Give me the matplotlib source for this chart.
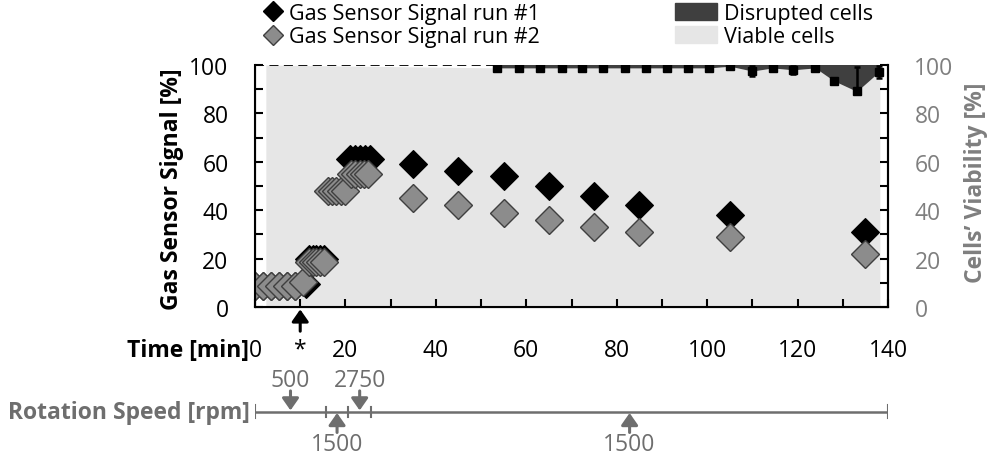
import matplotlib
matplotlib.use("Agg")
import matplotlib.pyplot as plt
from matplotlib.lines import Line2D
from matplotlib.patches import Patch

plt.rcParams['font.family'] = ['Open Sans', 'DejaVu Sans']

# Gas sensor signal, run #1 (black diamonds)
run1_time = [0, 1.8, 3.5, 5.3, 7, 8.8, 11.3,
             12, 12.8, 13.6, 14.4, 15.2,
             21, 22.1, 23.2, 24.3, 25.4,
             35, 45, 55, 65, 75, 85, 105, 135]
run1_signal = [8.8, 8.8, 8.8, 8.8, 8.8, 8.8, 9.5,
               20, 20, 20, 20, 20,
               61, 61, 61, 61, 61,
               59, 56, 54, 50, 46, 42, 38, 31]

# Gas sensor signal, run #2 (grey diamonds)
run2_time = [0, 1.8, 3.5, 5.3, 7, 8.8, 10.6,
             12, 12.8, 13.6, 14.4, 15.2,
             16.2, 17.1, 18, 19, 19.9,
             21.3, 22.2, 23.2, 24.1, 25.1,
             35, 45, 55, 65, 75, 85, 105, 135]
run2_signal = [8.8, 8.8, 8.8, 8.8, 8.8, 8.8, 10.2,
               18.5, 18.5, 18.5, 18.5, 18.5,
               48, 48, 48, 48, 48,
               55, 55, 55, 55, 55,
               45, 42, 39, 36, 33, 31, 29, 22]

# Cell viability (right axis)
via_time = [53.5, 58.4, 63, 68, 72.3, 77, 81.9, 86.5, 91.2, 95.8,
            100.5, 105, 110, 114.5, 119, 123.9, 128, 133.1, 137.9]
via_value = [98.8, 98.8, 98.8, 98.8, 98.8, 98.8, 98.8, 98.8, 98.8, 98.8,
             98.8, 99.5, 97.5, 98.8, 98, 98.8, 93.5, 89.1, 97]
via_err_low = [0, 0, 0, 0, 0, 0, 0, 0, 0, 0,
               0, 0, 2, 0, 1.7, 0, 0, 0, 2.5]
via_err_high = [0, 0, 0, 0, 0, 0, 0, 0, 0, 0,
                0, 0, 2, 0, 1.7, 0, 0, 10, 2.5]
viable_start = 2.4
viable_end = 138.2

# Rotation speed program
rot_edges = [0, 15.7, 20.6, 25.7, 140]
rot_speed = ['500', '1500', '2750', '1500']
rot_side = ['above', 'below', 'above', 'below']

x_ticks = [0, 10, 20, 30, 40, 50, 60, 70, 80, 90, 100, 110, 120, 130, 140]
x_ticklabels = ['0', '*', '20', '', '40', '', '60', '', '80', '', '100', '', '120', '', '140']
y_ticks = [0, 10, 20, 30, 40, 50, 60, 70, 80, 90, 100]
y_ticklabels = ['0', '', '20', '', '40', '', '60', '', '80', '', '100']

BLACK = '#000000'
GREY = '#8c8c8c'
DARK = '#3f3f3f'
LIGHT = '#e6e6e6'
TXT_GREY = '#7f7f7f'
ROT_GREY = '#6e6e6e'
FS = 16.5
ARROW = '-|>,head_width=0.28,head_length=0.4'

fig = plt.figure(figsize=(9.95, 4.56), dpi=100)
L, B, W, H = 255 / 995, 1 - 308 / 456, 633 / 995, 242 / 456
ax = fig.add_axes([L, B, W, H])

# background fills: viable (light) and disrupted (dark)
light_x = [viable_start] + via_time + [viable_end]
light_y = [100] + via_value + [via_value[-1]]
ax.fill_between(light_x, 0, light_y, color=LIGHT, lw=0, zorder=0)
ax.fill_between(via_time, via_value, 100, color=DARK, lw=0, zorder=1)
ax.plot([0, via_time[0]], [100, 100], color=BLACK, ls=(0, (5, 3)), lw=1.3, zorder=2)
ax.plot([via_time[0], via_time[-1]], [100, 100], color=DARK, lw=1.5, zorder=2)
ax.errorbar(via_time, via_value, yerr=[via_err_low, via_err_high], fmt='s',
            color=BLACK, ms=6, elinewidth=1.8, capsize=2.5, capthick=1.8, zorder=3)

# gas sensor signals
ax.plot(run1_time, run1_signal, 'D', color=BLACK, mec=BLACK, ms=14, mew=0.8, ls='none', zorder=4)
ax.plot(run2_time, run2_signal, 'D', color=GREY, mec=DARK, ms=14, mew=1.0, ls='none', zorder=5)

ax.set_xlim(0, 140)
ax.set_ylim(0, 100)
ax.set_xticks(x_ticks)
ax.set_xticklabels(x_ticklabels)
ax.set_yticks(y_ticks)
ax.set_yticklabels(y_ticklabels)
ax.tick_params(direction='in', length=6, width=1.5, labelsize=FS)
ax.tick_params(axis='x', pad=22)
ax.tick_params(axis='y', pad=19)
ax.spines['top'].set_visible(False)
for s in ['left', 'bottom', 'right']:
    ax.spines[s].set_linewidth(1.5)

ax2 = ax.twinx()
ax2.set_ylim(0, 100)
ax2.set_yticks(y_ticks)
ax2.set_yticklabels(y_ticklabels)
ax2.tick_params(direction='in', length=6, width=1.5, labelsize=FS, labelcolor=TXT_GREY, pad=19)
ax2.spines['top'].set_visible(False)
ax2.spines['right'].set_linewidth(1.5)

fig.text(172 / 995, 1 - 189 / 456, 'Gas Sensor Signal [%]', rotation=90, ha='center',
         va='center', fontsize=FS, fontweight='bold')
fig.text(976 / 995, 1 - 183 / 456, 'Cells\u2019 Viability [%]', rotation=90, ha='center',
         va='center', fontsize=FS, fontweight='bold', color=TXT_GREY)

ax.annotate('Time [min]', xy=(0, 0), xycoords=('data', 'axes fraction'), xytext=(-4, -22),
            textcoords='offset points', ha='right', va='top', fontsize=FS, fontweight='bold')
# arrow marking the "*" time point
ax.annotate('', xy=(10, -0.01), xycoords=('data', 'axes fraction'),
            xytext=(10, -0.1), textcoords=('data', 'axes fraction'),
            arrowprops=dict(arrowstyle=ARROW, lw=2.2, color=BLACK,
                            mutation_scale=18, shrinkA=0, shrinkB=0))

# legends
h1 = [Line2D([], [], marker='D', ls='none', color=BLACK, mec=BLACK, ms=10.5),
      Line2D([], [], marker='D', ls='none', color=GREY, mec=DARK, ms=10.5)]
fig.legend(h1, ['Gas Sensor Signal run #1', 'Gas Sensor Signal run #2'],
           loc='upper left', bbox_to_anchor=(262 / 995, 1 - 4 / 456), frameon=False,
           fontsize=15.5, handlelength=1.0, handletextpad=0.25, labelspacing=0.1,
           borderpad=0, borderaxespad=0)
h2 = [Patch(color=DARK), Patch(color=LIGHT)]
fig.legend(h2, ['Disrupted cells', 'Viable cells'], loc='upper left',
           bbox_to_anchor=(675 / 995, 1 - 4 / 456), frameon=False, fontsize=15.5,
           handlelength=1.95, handleheight=0.84, handletextpad=0.33, labelspacing=0.1,
           borderpad=0, borderaxespad=0)

# rotation speed bar
axr = fig.add_axes([L, 0, W, 86.6 / 456])
axr.set_xlim(0, 140)
axr.set_ylim(-1, 1)
axr.axis('off')
axr.plot([rot_edges[0], rot_edges[-1]], [0, 0], color=ROT_GREY, lw=1.8)
for i, e in enumerate(rot_edges):
    cap = 0.15 if i in (0, len(rot_edges) - 1) else 0.12
    axr.plot([e, e], [-cap, cap], color=ROT_GREY, lw=1.5)
for i, sp in enumerate(rot_speed):
    mid = (rot_edges[i] + rot_edges[i + 1]) / 2
    sgn = 1 if rot_side[i] == 'above' else -1
    axr.annotate('', xy=(mid, 0.03 * sgn), xytext=(mid, 0.48 * sgn),
                 arrowprops=dict(arrowstyle=ARROW, lw=2.2, color=ROT_GREY,
                                 mutation_scale=18, shrinkA=0, shrinkB=0))
    axr.text(mid, 0.74 * sgn, sp, ha='center', va='center', fontsize=FS, color=ROT_GREY)
axr.annotate('Rotation Speed [rpm]', xy=(0, 0), xytext=(-4, 0), textcoords='offset points',
             ha='right', va='center', fontsize=FS, fontweight='bold', color=ROT_GREY)

fig.savefig('out.png', dpi=100)
